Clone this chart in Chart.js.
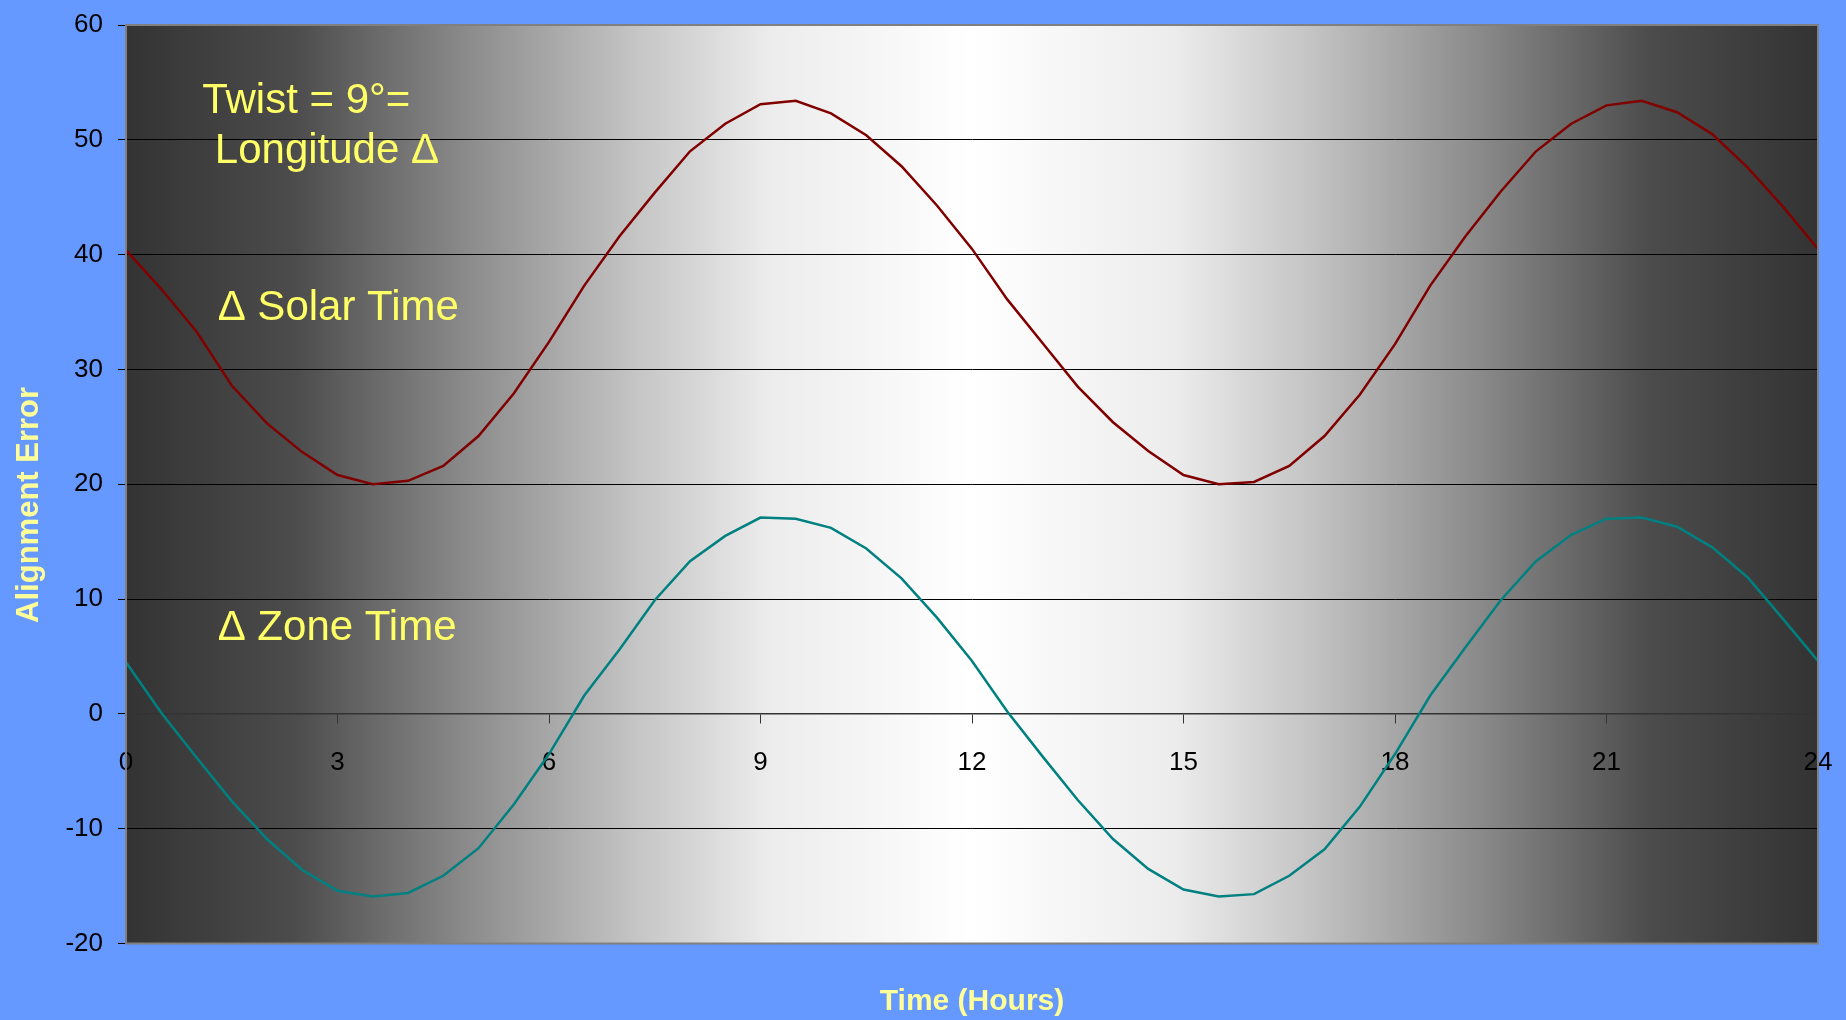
<!DOCTYPE html>
<html>
<head>
<meta charset="utf-8">
<script src="https://cdn.jsdelivr.net/npm/chart.js@4.4.1/dist/chart.umd.min.js"></script>
<style>
  html, body { margin: 0; padding: 0; background: #6699ff; }
  #wrap { width: 1846px; height: 1020px; }
</style>
</head>
<body>
<div id="wrap"><canvas id="alignChart"></canvas></div>
<script>
// hours sampled every half hour
var hours = [0, 0.5, 1, 1.5, 2, 2.5, 3, 3.5, 4, 4.5, 5, 5.5, 6, 6.5, 7, 7.5, 8, 8.5, 9, 9.5,
  10, 10.5, 11, 11.5, 12, 12.5, 13, 13.5, 14, 14.5, 15, 15.5, 16, 16.5, 17, 17.5, 18, 18.5, 19, 19.5,
  20, 20.5, 21, 21.5, 22, 22.5, 23, 23.5, 24];

// delta solar time (maroon curve)
var solarTime = [40.4, 37.0, 33.3, 28.6, 25.3, 22.8, 20.8, 20.0, 20.3, 21.6, 24.2, 27.9, 32.4, 37.3,
  41.6, 45.4, 49.0, 51.4, 53.1, 53.4, 52.3, 50.4, 47.7, 44.3, 40.5, 36.1, 32.3, 28.5, 25.4, 22.9,
  20.8, 20.0, 20.2, 21.6, 24.2, 27.8, 32.2, 37.3, 41.6, 45.5, 49.0, 51.4, 53.0, 53.4, 52.4, 50.5,
  47.6, 44.2, 40.5];

// delta zone time (teal curve)
var zoneTime = [4.5, 0.1, -3.8, -7.6, -10.9, -13.6, -15.4, -15.9, -15.6, -14.1, -11.7, -7.9, -3.5, 1.6,
  5.6, 9.9, 13.3, 15.5, 17.1, 17.0, 16.2, 14.4, 11.8, 8.4, 4.6, 0.2, -3.7, -7.5, -10.9, -13.5,
  -15.3, -15.9, -15.7, -14.1, -11.8, -8.1, -3.5, 1.6, 5.8, 9.9, 13.3, 15.6, 17.0, 17.1, 16.3, 14.5,
  11.9, 8.3, 4.6];

var xTicks = [0, 3, 6, 9, 12, 15, 18, 21, 24];
var yTicks = [-20, -10, 0, 10, 20, 30, 40, 50, 60];

// text notes placed in data units (hour, value at baseline)
var notes = [
  { text: 'Twist = 9°=', h: 1.08, v: 52.3 },
  { text: 'Longitude Δ', h: 1.26, v: 48.0 },
  { text: 'Δ Solar Time', h: 1.30, v: 34.3 },
  { text: 'Δ Zone Time', h: 1.30, v: 6.4 }
];

var FONT = '"Liberation Sans", Arial, sans-serif';

function toPoints(ys) {
  return hours.map(function (h, i) { return { x: h, y: ys[i] }; });
}

var backdrop = {
  id: 'backdrop',
  beforeDraw: function (chart) {
    var ctx = chart.ctx, a = chart.chartArea;
    ctx.save();
    ctx.fillStyle = '#6699ff';
    ctx.fillRect(0, 0, chart.width, chart.height);
    var g = ctx.createLinearGradient(a.left, 0, a.right, 0);
    g.addColorStop(0, '#333333');
    g.addColorStop(0.1, '#4c4c4c');
    g.addColorStop(0.2, '#8a8a8a');
    g.addColorStop(0.3, '#c4c4c4');
    g.addColorStop(0.38, '#ececec');
    g.addColorStop(0.5, '#ffffff');
    g.addColorStop(0.62, '#ececec');
    g.addColorStop(0.7, '#c4c4c4');
    g.addColorStop(0.8, '#8a8a8a');
    g.addColorStop(0.9, '#4c4c4c');
    g.addColorStop(1, '#333333');
    ctx.fillStyle = g;
    ctx.fillRect(a.left, a.top, a.right - a.left, a.bottom - a.top);
    ctx.restore();
  },
  afterDatasetsDraw: function (chart) {
    var ctx = chart.ctx, a = chart.chartArea;
    var xs = chart.scales.x, ys = chart.scales.y;
    ctx.save();
    ctx.strokeStyle = '#808080';
    ctx.lineWidth = 2;
    ctx.strokeRect(a.left, a.top, a.right - a.left, a.bottom - a.top);
    ctx.fillStyle = '#ffff66';
    ctx.font = '42px ' + FONT;
    ctx.textBaseline = 'alphabetic';
    notes.forEach(function (n) {
      ctx.fillText(n.text, xs.getPixelForValue(n.h), ys.getPixelForValue(n.v));
    });
    // y axis title
    ctx.translate(29, ys.getPixelForValue(18.2));
    ctx.rotate(-Math.PI / 2);
    ctx.fillStyle = '#ffff99';
    ctx.font = 'bold 31px ' + FONT;
    ctx.textAlign = 'center';
    ctx.textBaseline = 'middle';
    ctx.fillText('Alignment Error', 0, 0);
    ctx.restore();
  }
};

new Chart(document.getElementById('alignChart'), {
  type: 'line',
  data: {
    datasets: [
      { label: 'Δ Solar Time', data: toPoints(solarTime), borderColor: '#800000', borderWidth: 2.5,
        pointRadius: 0, tension: 0, fill: false },
      { label: 'Δ Zone Time', data: toPoints(zoneTime), borderColor: '#008080', borderWidth: 2.5,
        pointRadius: 0, tension: 0, fill: false }
    ]
  },
  options: {
    responsive: true,
    maintainAspectRatio: false,
    animation: false,
    layout: { padding: { left: 0, right: 28, top: 25, bottom: 0 } },
    plugins: { legend: { display: false }, tooltip: { enabled: false } },
    scales: {
      x: {
        type: 'linear',
        position: { y: 0 },
        min: 0, max: 24,
        afterBuildTicks: function (s) { s.ticks = xTicks.map(function (v) { return { value: v }; }); },
        ticks: { autoSkip: false, maxRotation: 0, padding: 0, color: '#000000',
          font: { family: FONT, size: 26, lineHeight: 3.05 } },
        grid: { drawOnChartArea: false, drawTicks: true, tickLength: 9, color: '#333333', lineWidth: 1 },
        border: { color: '#333333', width: 1.5 }
      },
      x2: {
        type: 'linear',
        position: 'bottom',
        min: 0, max: 24,
        ticks: { display: false },
        grid: { display: false },
        border: { display: false },
        title: { display: true, text: 'Time (Hours)', color: '#ffff99',
          font: { family: FONT, size: 30, weight: 'bold' }, padding: { top: 32.5, bottom: 0 } }
      },
      y: {
        type: 'linear',
        min: -20, max: 60,
        afterBuildTicks: function (s) { s.ticks = yTicks.map(function (v) { return { value: v }; }); },
        afterFit: function (s) { s.width = 126; },
        ticks: { padding: 15, color: '#000000', font: { family: FONT, size: 26, lineHeight: 0.5 } },
        grid: { color: '#000000', lineWidth: 1, tickLength: 8 },
        border: { color: '#555555', width: 2 }
      }
    }
  },
  plugins: [backdrop]
});
</script>
</body>
</html>
